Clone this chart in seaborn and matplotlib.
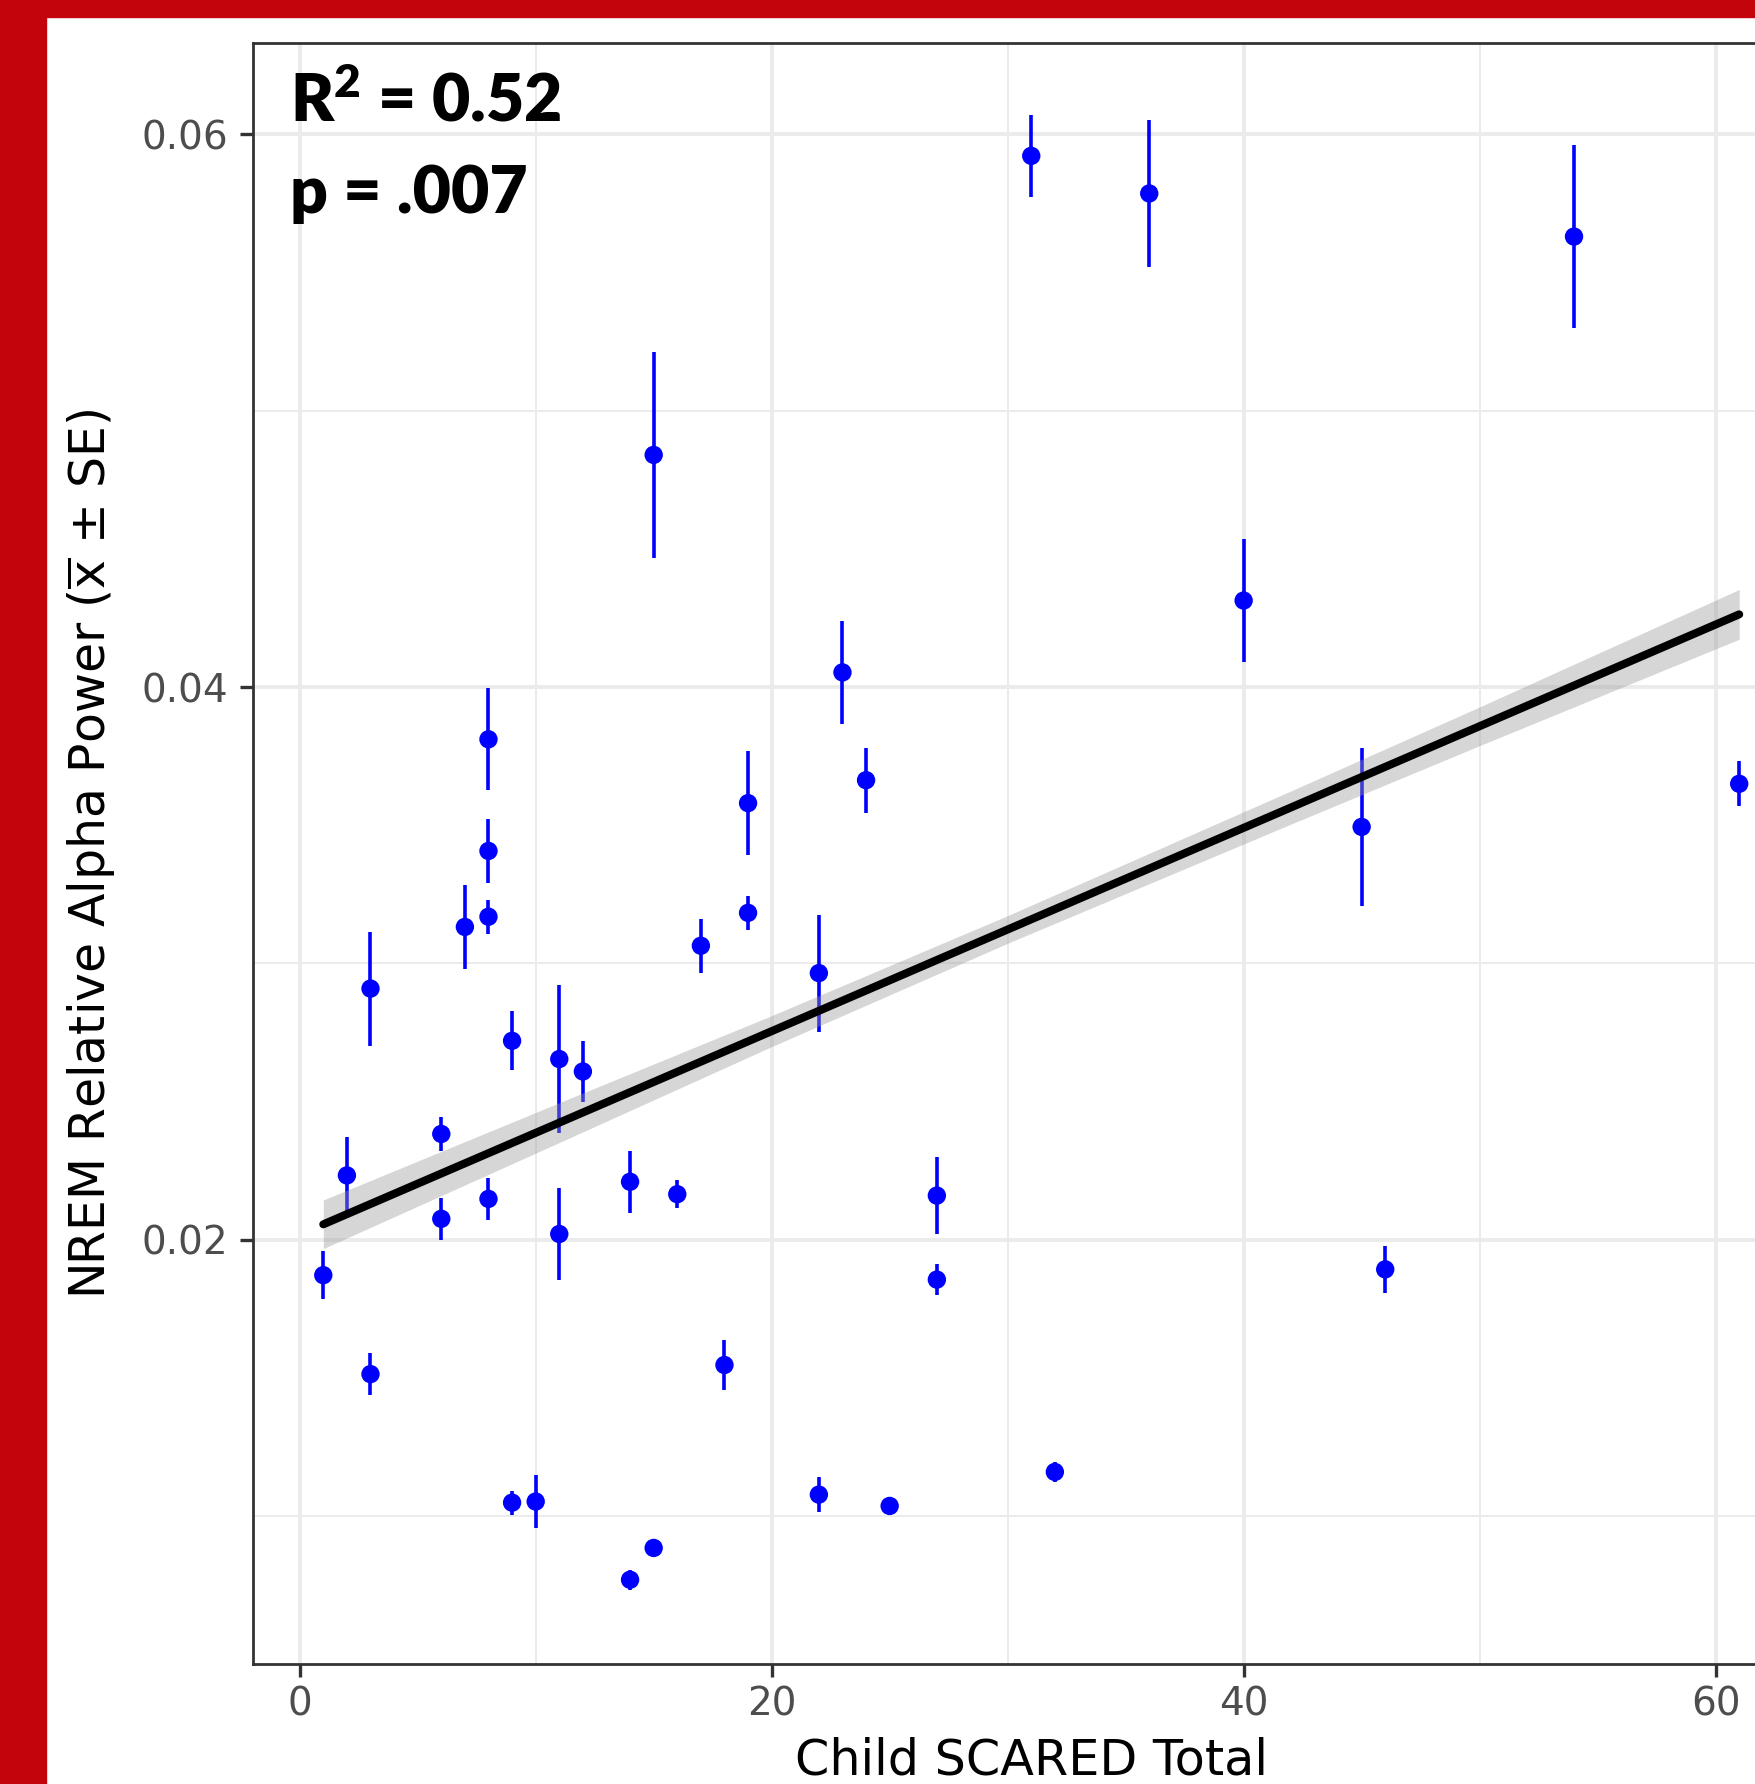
import matplotlib
matplotlib.use("Agg")
import matplotlib.pyplot as plt
import seaborn as sns
import pandas as pd
from matplotlib.patches import Rectangle
from matplotlib.ticker import FixedLocator

# ---------------- data ----------------
scared_total = [1, 2, 3, 3, 6, 6, 7, 8, 8, 8, 8, 9, 9, 10, 11, 11, 12, 14, 14, 15,
                15, 16, 17, 18, 19, 19, 22, 22, 23, 24, 25, 27, 27, 31, 32, 36, 40,
                45, 46, 54, 61]
alpha_mean = [0.01872, 0.02233, 0.02909, 0.01514, 0.02383, 0.02076, 0.03132,
              0.03811, 0.03407, 0.03169, 0.02148, 0.02720, 0.01049, 0.01053,
              0.02654, 0.02021, 0.02609, 0.02210, 0.00770, 0.04840, 0.00885,
              0.02165, 0.03064, 0.01547, 0.03580, 0.03183, 0.02965, 0.01078,
              0.04053, 0.03663, 0.01037, 0.02160, 0.01856, 0.05922, 0.01160,
              0.05786, 0.04313, 0.03494, 0.01893, 0.05630, 0.03650]
alpha_se = [0.00088, 0.00140, 0.00206, 0.00076, 0.00062, 0.00077, 0.00152,
            0.00185, 0.00117, 0.00062, 0.00076, 0.00107, 0.00043, 0.00095,
            0.00267, 0.00165, 0.00111, 0.00113, 0.00037, 0.00374, 0.00010,
            0.00050, 0.00097, 0.00090, 0.00189, 0.00062, 0.00212, 0.00062,
            0.00185, 0.00117, 0.00010, 0.00138, 0.00056, 0.00148, 0.00037,
            0.00267, 0.00222, 0.00286, 0.00084, 0.00331, 0.00082]

fit_x = [1, 61]
fit_y = [0.02056, 0.04263]
band_x = [1, 11, 20, 30, 42, 50, 61]
band_lower = [0.01968, 0.02352, 0.02699, 0.03073, 0.03504, 0.03788, 0.04173]
band_upper = [0.02144, 0.02496, 0.02811, 0.03173, 0.03624, 0.03928, 0.04353]

x_ticks = [0, 20, 40, 60]
x_tick_labels = ["0", "20", "40", "60"]
x_minor = [10, 30, 50]
y_ticks = [0.02, 0.04, 0.06]
y_tick_labels = ["0.02", "0.04", "0.06"]
y_minor = [0.01, 0.03, 0.05]

annot_r2 = r"R$^{2}$ = 0.52"
annot_p = "p = .007"
x_label = "Child SCARED Total"
y_label = r"NREM Relative Alpha Power ($\overline{\mathrm{x}}$ ± SE)"

df = pd.DataFrame({"scared": scared_total, "alpha": alpha_mean, "se": alpha_se})

# ---------------- style ----------------
sns.set_style("white")
plt.rcParams["font.family"] = ["DejaVu Sans"]
plt.rcParams["mathtext.fontset"] = "dejavusans"
plt.rcParams["mathtext.default"] = "regular"
plt.rcParams["text.color"] = "black"

W, H, DPI = 1755, 1784, 100
fig = plt.figure(figsize=(W / DPI, H / DPI), dpi=DPI, facecolor="white")

# red frame (left and top)
red = "#C4040D"
fig.patches.append(Rectangle((0, 0), 45.7 / W, 1, transform=fig.transFigure,
                             color=red, zorder=0))
fig.patches.append(Rectangle((0, 1 - 17.3 / H), 1, 17.3 / H, transform=fig.transFigure,
                             color=red, zorder=0))

# axes geometry (pixels): left 252.5, right 1810 (off-figure), top 43.3, bottom 1663.7
left_px, right_px, top_px, bottom_px = 252.5, 1810.0, 43.3, 1663.7
ax = fig.add_axes([left_px / W, 1 - bottom_px / H,
                   (right_px - left_px) / W, (bottom_px - top_px) / H])
ax.set_facecolor("white")
ax.set_xlim(-2, 64)
ax.set_ylim(0.004662, 0.063293)

# grid
ax.xaxis.set_major_locator(FixedLocator(x_ticks))
ax.xaxis.set_minor_locator(FixedLocator(x_minor))
ax.yaxis.set_major_locator(FixedLocator(y_ticks))
ax.yaxis.set_minor_locator(FixedLocator(y_minor))
ax.set_xticklabels(x_tick_labels)
ax.set_yticklabels(y_tick_labels)
ax.grid(which="major", color="#EBEBEB", lw=2.8, zorder=0)
ax.grid(which="minor", color="#EBEBEB", lw=1.4, zorder=0)
ax.set_axisbelow(True)

ax.tick_params(which="major", direction="out", length=9.1, width=2.4,
               color="#333333", labelsize=28, labelcolor="#4D4D4D",
               bottom=True, left=True, top=False, right=False)
ax.tick_params(axis="x", which="major", pad=6.5)
ax.tick_params(axis="y", which="major", pad=8.3)
ax.tick_params(which="minor", length=0, bottom=False, left=False)
for sp in ax.spines.values():
    sp.set_visible(True)
    sp.set_color("#333333")
    sp.set_linewidth(2.0)

# error bars and points
ax.errorbar(df["scared"], df["alpha"], yerr=df["se"], fmt="none",
            ecolor="#0000FF", elinewidth=2.6, capsize=0, zorder=3)
sns.scatterplot(data=df, x="scared", y="alpha", color="#0000FF", s=175,
                edgecolor="none", linewidth=0, zorder=4, ax=ax, legend=False)

# confidence band and fitted line
ax.fill_between(band_x, band_lower, band_upper, color="#999999", alpha=0.4,
                lw=0, zorder=5)
sns.lineplot(x=fit_x, y=fit_y, color="black", lw=5.8, zorder=6, ax=ax)

# labels
ax.set_xlabel(x_label, fontsize=35.5, color="black")
ax.set_ylabel(y_label, fontsize=35.2, color="black")
ax.xaxis.set_label_coords(0.5, (bottom_px - 1736.8) / (bottom_px - top_px))
ax.yaxis.set_label_coords((118.5 - left_px) / (right_px - left_px), 0.5)

# annotation
fig.text(290 / W, 1 - 121.7 / H, annot_r2, family=["Lato", "DejaVu Sans"],
         fontweight="heavy", fontsize=47.5, va="baseline", ha="left", zorder=10,
         color="black")
fig.text(290 / W, 1 - 212.7 / H, annot_p, family=["Lato", "DejaVu Sans"],
         fontweight="heavy", fontsize=47.5, va="baseline", ha="left", zorder=10,
         color="black")

fig.savefig("out.png", dpi=DPI, facecolor="white")
